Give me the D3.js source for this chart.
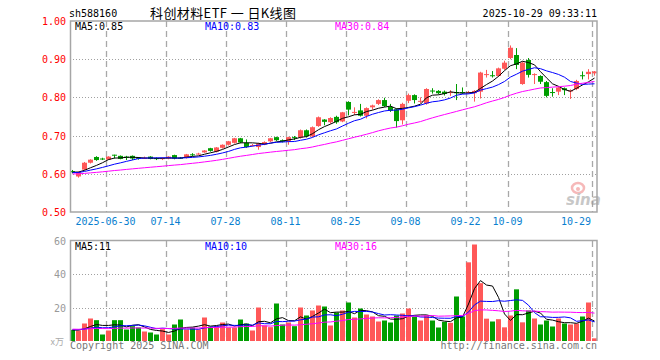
<!DOCTYPE html>
<html lang="zh">
<head>
    <meta charset="UTF-8">
    <title>科创材料ETF 日K线图</title>
    <style>
body {
    margin: 0;
    background: #ffffff;
}

#chart {
    display: block;
}

.mono {
    font-family: 'DejaVu Sans Mono', 'Liberation Mono', monospace;
    font-size: 10px;
}

.grid-h {
    stroke: #a0a0a0;
    stroke-width: 1;
    stroke-dasharray: 1,2;
}

.grid-v {
    stroke: #a8a8a8;
    stroke-width: 1.3;
    stroke-dasharray: 6,4;
}

.frame {
    fill: none;
    stroke: #a6a6a6;
    stroke-width: 1.5;
}
    </style>
    <script src="https://d3js.org/d3.v7.min.js"></script>
</head>
<body>

<svg id="chart" width="660" height="360"></svg>

<script>
// trading days shown (2025)
const dates = [
    "06-20","06-23","06-24","06-25","06-26","06-27","06-30",
    "07-01","07-02","07-03","07-04","07-07","07-08","07-09","07-10","07-11",
    "07-14","07-15","07-16","07-17","07-18","07-21","07-22","07-23","07-24","07-25",
    "07-28","07-29","07-30","07-31","08-01","08-04","08-05","08-06","08-07","08-08",
    "08-11","08-12","08-13","08-14","08-15","08-18","08-19","08-20","08-21","08-22",
    "08-25","08-26","08-27","08-28","08-29","09-01","09-02","09-03","09-04","09-05",
    "09-08","09-09","09-10","09-11","09-12","09-15","09-16","09-17","09-18","09-19",
    "09-22","09-23","09-24","09-25","09-26","09-29","09-30",
    "10-09","10-10","10-13","10-14","10-15","10-16","10-17",
    "10-20","10-21","10-22","10-23","10-24","10-27","10-28","10-29"
];

const openP = [
    0.607,0.593,0.611,0.629,0.644,0.640,0.637,0.650,0.647,0.645,
    0.647,0.642,0.641,0.645,0.641,0.640,0.640,0.649,0.642,0.642,
    0.651,0.652,0.656,0.667,0.658,0.668,0.676,0.681,0.693,0.681,
    0.674,0.670,0.677,0.685,0.696,0.688,0.685,0.696,0.695,0.714,
    0.698,0.725,0.742,0.735,0.749,0.737,0.788,0.760,0.766,0.752,
    0.774,0.783,0.793,0.775,0.769,0.740,0.791,0.806,0.790,0.784,
    0.818,0.817,0.815,0.813,0.814,0.814,0.813,0.811,0.815,0.860,
    0.858,0.856,0.875,0.903,0.911,0.835,0.898,0.860,0.856,0.840,
    0.814,0.815,0.824,0.817,0.822,0.858,0.861,0.863
];
const highP = [
    0.610,0.606,0.631,0.638,0.646,0.642,0.646,0.650,0.648,0.647,
    0.648,0.644,0.645,0.646,0.643,0.643,0.646,0.650,0.644,0.652,
    0.654,0.655,0.662,0.668,0.670,0.677,0.686,0.694,0.694,0.690,
    0.678,0.681,0.685,0.694,0.697,0.690,0.697,0.699,0.716,0.716,
    0.724,0.750,0.743,0.748,0.752,0.762,0.790,0.774,0.783,0.774,
    0.781,0.795,0.799,0.783,0.771,0.786,0.810,0.808,0.800,0.824,
    0.824,0.819,0.818,0.819,0.835,0.826,0.817,0.819,0.867,0.872,
    0.869,0.878,0.896,0.936,0.929,0.894,0.903,0.863,0.858,0.843,
    0.824,0.828,0.826,0.821,0.846,0.868,0.874,0.869
];
const lowP = [
    0.601,0.590,0.609,0.627,0.634,0.636,0.636,0.640,0.638,0.636,
    0.636,0.637,0.639,0.638,0.636,0.636,0.638,0.638,0.639,0.640,
    0.646,0.650,0.655,0.658,0.656,0.666,0.674,0.679,0.680,0.668,
    0.672,0.663,0.675,0.683,0.686,0.682,0.676,0.688,0.692,0.695,
    0.696,0.723,0.727,0.731,0.731,0.735,0.753,0.754,0.750,0.745,
    0.768,0.780,0.775,0.762,0.721,0.729,0.785,0.784,0.785,0.781,
    0.810,0.808,0.805,0.804,0.793,0.809,0.810,0.789,0.797,0.852,
    0.852,0.854,0.872,0.900,0.874,0.833,0.852,0.835,0.835,0.800,
    0.802,0.806,0.806,0.796,0.819,0.847,0.847,0.857
];
const closeP = [
    0.604,0.604,0.629,0.637,0.636,0.639,0.645,0.649,0.639,0.644,
    0.640,0.641,0.642,0.639,0.640,0.641,0.645,0.640,0.641,0.651,
    0.650,0.653,0.661,0.660,0.669,0.676,0.685,0.693,0.682,0.670,
    0.675,0.679,0.683,0.693,0.688,0.684,0.696,0.695,0.714,0.698,
    0.722,0.748,0.736,0.746,0.735,0.761,0.768,0.762,0.752,0.772,
    0.779,0.793,0.777,0.765,0.738,0.783,0.806,0.793,0.791,0.822,
    0.817,0.811,0.809,0.814,0.811,0.811,0.814,0.817,0.865,0.861,
    0.857,0.876,0.891,0.930,0.885,0.891,0.859,0.861,0.841,0.804,
    0.813,0.826,0.819,0.818,0.843,0.857,0.867,0.868
];
// volume (万)
const volume = [
    6.7,6.3,10.5,13.5,12.5,3.9,6.3,12.5,12.5,6.9,
    8.9,8.1,5.7,5.1,3.9,7.1,3.9,9.9,12.9,6.9,
    8.1,6.9,14.1,8.7,8.7,11.1,8.1,8.1,12.9,10.5,
    6.3,20.1,9.3,8.3,22.5,9.9,11.1,8.9,20.1,15.3,
    18.3,21.3,20.7,9.3,17.1,18.3,23.1,14.1,19.5,15.9,
    14.7,11.7,12.3,11.1,15.3,16.5,19.5,14.7,12.3,15.3,
    12.3,8.1,11.5,10.9,26.7,14.7,47.2,57.9,34.7,13.4,
    11.7,13.1,8.2,15.3,31.0,11.2,18.3,13.5,9.9,12.3,
    8.7,13.5,10.5,9.9,10.5,14.7,23.1,1.6
];

// earlier sessions (off screen), estimated from where the MA lines start
const prevClose = [
    0.594,0.596,0.593,0.597,0.595,0.598,0.596,0.599,0.597,0.595,
    0.598,0.600,0.597,0.599,0.601,0.598,0.600,0.602,0.599,0.601,
    0.603,0.600,0.602,0.604,0.601,0.603,0.606,0.604,0.605
];
const prevVolume = [
    7.8,6.5,8.2,7.1,6.0,7.4,8.8,6.9,7.3,6.2,
    7.7,8.1,6.6,7.0,7.5,6.4,7.9,7.2,6.8,7.6,
    6.3,7.0,8.0,6.7,7.3,6.1,6.9,6.4,6.6
];

const tickDates = ["06-30","07-14","07-28","08-11","08-25","09-08","09-22","10-09","10-29"];
const tickLabels = ["2025-06-30","07-14","07-28","08-11","08-25","09-08","09-22","10-09","10-29"];
const priceTicks = [0.5, 0.6, 0.7, 0.8, 0.9, 1.0];
const volumeTicks = [20, 40, 60];

const priceLegend = ["MA5:0.85", "MA10:0.83", "MA30:0.84"];
const volumeLegend = ["MA5:11", "MA10:10", "MA30:16"];
const maPeriods = [5, 10, 30];
const maColors = ["#000000", "#0000ff", "#ff00ff"];

const UP = "#ff5858";
const DOWN = "#009e00";

const svg = d3.select("#chart");

const left = 70, right = 597;
const x = d3.scaleBand().domain(dates).range([left, left + dates.length * 6]);
const y = d3.scaleLinear().domain([0.5, 1.0]).range([212, 21]);
const yv = d3.scaleLinear().domain([0, 60]).range([341, 241]);

function movingAvg(values, prev, n) {
    const all = prev.concat(values);
    return values.map((v, i) => {
        const end = prev.length + i + 1;
        const win = all.slice(Math.max(0, end - n), end);
        return d3.mean(win);
    });
}

// ---------- header ----------
svg.append("text").attr("class", "mono").attr("x", 69).attr("y", 17)
    .attr("fill", "#000").text("sh588160");
svg.append("text").attr("x", 150).attr("y", 18)
    .attr("font-family", "'Noto Sans CJK SC', sans-serif").attr("font-size", 13)
    .attr("textLength", 146).attr("lengthAdjust", "spacing")
    .attr("fill", "#000").text("科创材料ETF 一 日K线图");
svg.append("text").attr("class", "mono").attr("x", 597).attr("y", 17)
    .attr("text-anchor", "end").attr("fill", "#000").text("2025-10-29 09:33:11");

// ---------- grids ----------
function drawVGrid(y0, y1) {
    svg.append("g").selectAll("line").data(tickDates).join("line")
        .attr("class", "grid-v")
        .attr("x1", d => x(d) + 0.5).attr("x2", d => x(d) + 0.5)
        .attr("y1", y0).attr("y2", y1);
}

svg.append("g").selectAll("line").data(priceTicks.filter(t => t > 0.5 && t < 1.0)).join("line")
    .attr("class", "grid-h")
    .attr("x1", left).attr("x2", right)
    .attr("y1", d => Math.round(y(d)) + 0.5).attr("y2", d => Math.round(y(d)) + 0.5);
drawVGrid(21, 212);

svg.append("g").selectAll("line").data(volumeTicks.filter(t => t < 60)).join("line")
    .attr("class", "grid-h")
    .attr("x1", left).attr("x2", right)
    .attr("y1", d => Math.round(yv(d)) + 0.5).attr("y2", d => Math.round(yv(d)) + 0.5);
drawVGrid(241, 341);

// ---------- watermark ----------
const logo = svg.append("g").attr("opacity", 0.55);
logo.append("ellipse").attr("cx", 578).attr("cy", 188).attr("rx", 6).attr("ry", 5)
    .attr("fill", "none").attr("stroke", "#f08080").attr("stroke-width", 2.5);
logo.append("circle").attr("cx", 578).attr("cy", 189).attr("r", 2).attr("fill", "#f08080");
logo.append("text").attr("x", 566).attr("y", 205)
    .attr("font-family", "'DejaVu Sans', sans-serif").attr("font-size", 15)
    .attr("font-weight", "bold").attr("font-style", "italic")
    .attr("fill", "#9a9a9a").text("sina");

// ---------- candles ----------
const idx = d3.range(dates.length);
const isUp = i => closeP[i] >= openP[i];

const candles = svg.append("g").selectAll("g").data(idx).join("g");
candles.append("line")
    .attr("x1", i => x(dates[i]) + 2.5).attr("x2", i => x(dates[i]) + 2.5)
    .attr("y1", i => y(highP[i])).attr("y2", i => y(lowP[i]))
    .attr("stroke", i => isUp(i) ? UP : DOWN).attr("stroke-width", 1);
candles.append("rect")
    .attr("x", i => x(dates[i])).attr("width", 5)
    .attr("y", i => y(Math.max(openP[i], closeP[i])))
    .attr("height", i => Math.max(1, Math.abs(y(openP[i]) - y(closeP[i]))))
    .attr("fill", i => isUp(i) ? UP : DOWN);

// ---------- volume bars ----------
svg.append("g").selectAll("rect").data(idx).join("rect")
    .attr("x", i => x(dates[i])).attr("width", 5)
    .attr("y", i => yv(volume[i]))
    .attr("height", i => yv(0) - yv(volume[i]))
    .attr("fill", i => isUp(i) ? UP : DOWN);

// ---------- moving averages ----------
maPeriods.forEach((n, k) => {
    const pm = movingAvg(closeP, prevClose, n);
    const vm = movingAvg(volume, prevVolume, n);
    const line = d3.line().x((d, i) => x(dates[i]) + 2.5);
    svg.append("path").attr("fill", "none").attr("stroke", maColors[k]).attr("stroke-width", 1)
        .attr("d", line.y(d => y(d))(pm));
    svg.append("path").attr("fill", "none").attr("stroke", maColors[k]).attr("stroke-width", 1)
        .attr("d", line.y(d => yv(d))(vm));
});

// ---------- frames ----------
svg.append("rect").attr("class", "frame")
    .attr("x", left + 0.5).attr("y", 21).attr("width", right - left - 0.5).attr("height", 191);
svg.append("path").attr("class", "frame")
    .attr("d", `M${left + 0.5},341V240.5H${right}V341`);

// ---------- legends ----------
const legendX = [75, 205, 335];
priceLegend.forEach((t, k) => {
    svg.append("text").attr("class", "mono").attr("x", legendX[k]).attr("y", 30)
        .attr("fill", maColors[k]).text(t);
});
volumeLegend.forEach((t, k) => {
    svg.append("text").attr("class", "mono").attr("x", legendX[k]).attr("y", 250)
        .attr("fill", maColors[k]).text(t);
});

// ---------- axes labels ----------
svg.append("g").selectAll("text").data(priceTicks).join("text")
    .attr("class", "mono").attr("x", 66).attr("y", d => y(d) + 4)
    .attr("text-anchor", "end").attr("fill", "#ff0000")
    .text(d => d.toFixed(2));

svg.append("g").selectAll("text").data(volumeTicks).join("text")
    .attr("class", "mono").attr("x", 66).attr("y", d => yv(d) + 4)
    .attr("text-anchor", "end").attr("fill", "#999999")
    .text(d => d);
svg.append("text").attr("x", 64).attr("y", 345).attr("text-anchor", "end")
    .attr("font-family", "'Noto Sans CJK SC', sans-serif").attr("font-size", 9)
    .attr("fill", "#aaaaaa").text("x万");

svg.append("g").selectAll("text").data(tickDates).join("text")
    .attr("class", "mono")
    .attr("x", (d, i) => i === tickDates.length - 1 ? x(d) - 1 : x(d) - 0.5)
    .attr("y", 225)
    .attr("text-anchor", (d, i) => i === tickDates.length - 1 ? "end" : "middle")
    .attr("fill", "#0a7fd0")
    .text((d, i) => tickLabels[i]);

// ---------- footer ----------
svg.append("text").attr("class", "mono").attr("x", 70).attr("y", 349)
    .attr("fill", "#777").text("Copyright 2025 SINA.COM");
svg.append("text").attr("class", "mono").attr("x", 597).attr("y", 349)
    .attr("text-anchor", "end").attr("fill", "#777").text("http://finance.sina.com.cn");
</script>

</body>
</html>
